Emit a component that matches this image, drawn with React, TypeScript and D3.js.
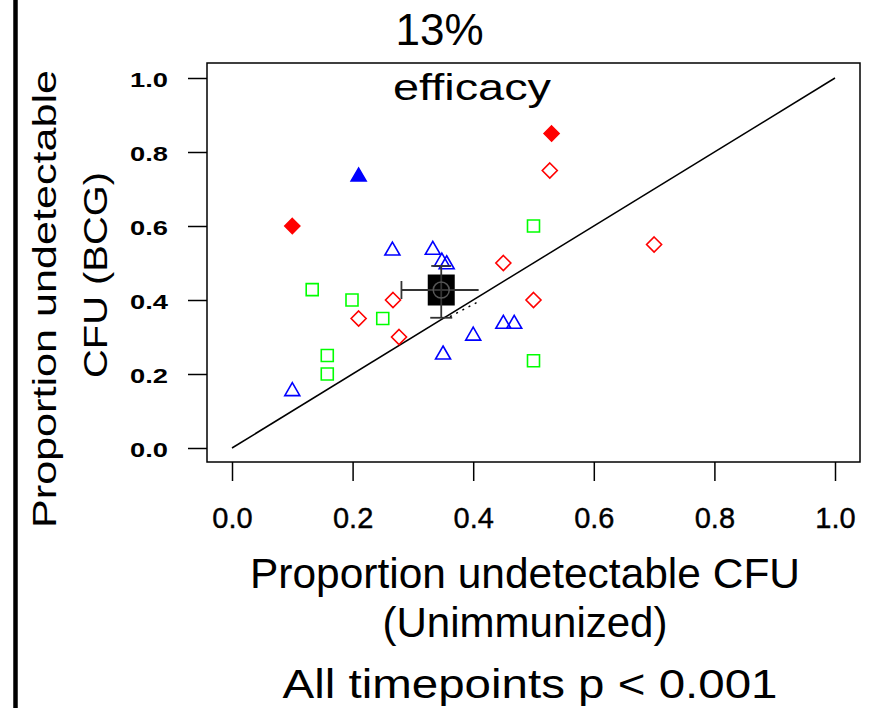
import React, { useEffect, useRef } from "react";
import * as d3 from "d3";

// x = unimmunized, y = BCG
const redOpen: [number, number][] = [
  [0.527, 0.75], [0.70, 0.55], [0.45, 0.50], [0.267, 0.40],
  [0.50, 0.40], [0.21, 0.35], [0.277, 0.30],
];
const redFilled: [number, number][] = [[0.10, 0.60], [0.53, 0.85]];
const greenOpen: [number, number][] = [
  [0.50, 0.60], [0.133, 0.428], [0.199, 0.40], [0.25, 0.35],
  [0.158, 0.25], [0.158, 0.20], [0.50, 0.236],
];
const blueOpen: [number, number][] = [
  [0.266, 0.535], [0.333, 0.537], [0.348, 0.505], [0.356, 0.498],
  [0.45, 0.337], [0.468, 0.337], [0.40, 0.305], [0.35, 0.254], [0.10, 0.155],
];
const blueFilled: [number, number][] = [[0.21, 0.735]];

const meanPoint = { x: 0.347, y: 0.427, xLo: 0.281, xHi: 0.409, yLo: 0.352, yHi: 0.492 };
const dottedSeg: [number, number][] = [[0.3615, 0.355], [0.408, 0.395]];
const identityLine: [number, number][] = [[0, 0], [1, 1]];

const xTicks = [0, 0.2, 0.4, 0.6, 0.8, 1.0];
const yTicks = [0, 0.2, 0.4, 0.6, 0.8, 1.0];

const FONT = "Arial, 'Liberation Sans', sans-serif";

const Chart = () => {
  const svgRef = useRef<SVGSVGElement>(null);
  const width = 882;
  const height = 708;

  useEffect(() => {
    const svg = d3.select(svgRef.current);
    svg.selectAll("*").remove();

    const xScale = d3.scaleLinear().domain([0, 1]).range([232, 835]);
    const yScale = d3.scaleLinear().domain([0, 1]).range([448, 78]);

    // left border line
    svg.append("line")
      .attr("x1", 15.5).attr("x2", 15.5).attr("y1", 0).attr("y2", height)
      .attr("stroke", "black").attr("stroke-width", 4.5);

    // plot box
    svg.append("rect")
      .attr("x", 207).attr("y", 63).attr("width", 653).attr("height", 399)
      .attr("fill", "none").attr("stroke", "black").attr("stroke-width", 1.5);

    const yAxis = svg.append("g")
      .attr("transform", "translate(207,0)")
      .call(d3.axisLeft(yScale).tickValues(yTicks).tickSize(19).tickPadding(20).tickFormat(d3.format(".1f")));
    yAxis.select(".domain").remove();
    yAxis.selectAll("line").attr("stroke-width", 1.5);
    yAxis.selectAll("text")
      .attr("font-family", FONT).attr("font-size", 21).attr("font-weight", "bold")
      .attr("dy", "0.42em").attr("textLength", 38).attr("lengthAdjust", "spacingAndGlyphs");

    const xAxis = svg.append("g")
      .attr("transform", "translate(0,462)")
      .call(d3.axisBottom(xScale).tickValues(xTicks).tickSize(19).tickPadding(26).tickFormat(d3.format(".1f")));
    xAxis.select(".domain").remove();
    xAxis.selectAll("line").attr("stroke-width", 1.5);
    xAxis.selectAll("text").attr("font-family", FONT).attr("font-size", 29)
      .attr("stroke", "black").attr("stroke-width", 0.4);

    // identity line
    svg.append("path")
      .attr("d", d3.line().x(d => xScale(d[0])).y(d => yScale(d[1]))(identityLine))
      .attr("fill", "none").attr("stroke", "black").attr("stroke-width", 1.5);

    const diamond = "M0,-7.5L7.5,0L0,7.5L-7.5,0Z";
    const triangle = "M0,-8L7.5,5L-7.5,5Z";
    const square = "M-6,-6H6V6H-6Z";

    const drawPts = (pts: [number, number][], shape: string, color: string, filled: boolean) => {
      svg.append("g").selectAll("path")
        .data(pts).enter().append("path")
        .attr("d", shape)
        .attr("transform", d => `translate(${xScale(d[0])},${yScale(d[1])})`)
        .attr("fill", filled ? color : "none")
        .attr("stroke", color).attr("stroke-width", 1.6);
    };
    drawPts(greenOpen, square, "#00ff00", false);
    drawPts(blueOpen, triangle, "#0000ff", false);
    drawPts(redOpen, diamond, "#ff0000", false);
    drawPts(redFilled, diamond, "#ff0000", true);
    drawPts(blueFilled, triangle, "#0000ff", true);

    // dotted segment
    svg.append("path")
      .attr("d", d3.line().x(d => xScale(d[0])).y(d => yScale(d[1]))(dottedSeg))
      .attr("fill", "none").attr("stroke", "black").attr("stroke-width", 1.5)
      .attr("stroke-dasharray", "2,5");

    // mean with error bars
    const mx = xScale(meanPoint.x), my = yScale(meanPoint.y);
    svg.append("rect")
      .attr("x", mx - 13.5).attr("y", my - 15.5).attr("width", 27).attr("height", 31)
      .attr("fill", "black");
    const g = svg.append("g").attr("stroke", "#333").attr("stroke-width", 1.8);
    g.append("line").attr("x1", xScale(meanPoint.xLo)).attr("x2", xScale(meanPoint.xHi)).attr("y1", my).attr("y2", my);
    g.append("line").attr("x1", xScale(meanPoint.xLo)).attr("x2", xScale(meanPoint.xLo)).attr("y1", my - 9).attr("y2", my + 9);
    g.append("line").attr("x1", mx).attr("x2", mx).attr("y1", yScale(meanPoint.yHi)).attr("y2", yScale(meanPoint.yLo));
    g.append("line").attr("x1", mx - 10).attr("x2", mx + 10).attr("y1", yScale(meanPoint.yHi)).attr("y2", yScale(meanPoint.yHi));
    g.append("line").attr("x1", mx - 11).attr("x2", mx + 11).attr("y1", yScale(meanPoint.yLo)).attr("y2", yScale(meanPoint.yLo));
    svg.append("circle").attr("cx", mx).attr("cy", my).attr("r", 8)
      .attr("fill", "none").attr("stroke", "#555").attr("stroke-width", 1.5);

    // titles
    const txt = (x: number, y: number, s: string, size: number, len?: number, rotate = false) => {
      const t = svg.append("text")
        .attr("x", x).attr("y", y).attr("text-anchor", "middle")
        .attr("font-family", FONT).attr("font-size", size).text(s);
      if (len) t.attr("textLength", len).attr("lengthAdjust", "spacingAndGlyphs");
      if (rotate) t.attr("transform", `rotate(-90,${x},${y})`);
    };
    txt(439.5, 45, "13%", 44);
    txt(472, 100, "efficacy", 36, 158);
    txt(525, 588, "Proportion undetectable CFU", 42, 550);
    txt(525, 637, "(Unimmunized)", 42, 285);
    txt(530, 698, "All timepoints p < 0.001", 41, 495);
    txt(56, 299, "Proportion undetectable", 33, 458, true);
    txt(107, 275, "CFU (BCG)", 33, 206, true);
  }, []);

  return <svg ref={svgRef} width={width} height={height} style={{ position: "absolute", left: 0, top: 0 }} />;
};

export default function App() {
  return <Chart />;
}
